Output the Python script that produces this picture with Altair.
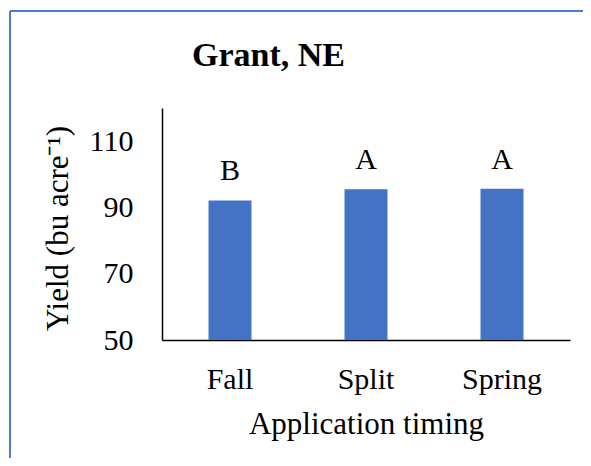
import altair as alt
import pandas as pd

timing = ["Fall", "Split", "Spring"]
yield_vals = [92.1, 95.5, 95.6]
letters = ["B", "A", "A"]
y_ticks = [50, 70, 90, 110]
title_text = "Grant, NE"

df = pd.DataFrame({"timing": timing, "yield": yield_vals, "letter": letters})
frame_df = pd.DataFrame({"k": [0]})
title_df = pd.DataFrame({"t": [title_text]})

FONT = "Liberation Serif"

x_enc = alt.X(
    "timing:N",
    sort=timing,
    scale=alt.Scale(paddingInner=0.684, paddingOuter=0.342),
    axis=alt.Axis(
        title="Application timing",
        labelAngle=0,
        ticks=False,
        tickSize=0,
        labelPadding=48,
        labelBaseline="alphabetic",
        titleY=93,
        titleBaseline="alphabetic",
    ),
)
y_enc = alt.Y(
    "yield:Q",
    scale=alt.Scale(domain=[50, 120], nice=False, zero=False),
    axis=alt.Axis(
        title="Yield (bu acre\u207b\u00b9)",
        values=y_ticks,
        grid=False,
        ticks=False,
        tickSize=0,
        labelPadding=29,
        labelBaseline="middle",
        titleX=-95,
        titleY=120,
        titleAngle=270,
        titleAlign="center",
        titleBaseline="alphabetic",
    ),
)

bars = alt.Chart(df).mark_bar(color="#4472C4", clip=True).encode(x=x_enc, y=y_enc)

texts = alt.Chart(df).mark_text(
    font=FONT, fontSize=30, baseline="alphabetic", dy=-20, color="black"
).encode(x=alt.X("timing:N", sort=timing), y=alt.Y("yield:Q"), text="letter:N")

title_mark = alt.Chart(title_df).mark_text(
    font=FONT, fontSize=34, fontWeight="bold", baseline="alphabetic",
    align="center", color="black"
).encode(x=alt.value(106.5), y=alt.value(-42), text="t:N")

top_line = alt.Chart(frame_df).mark_rule(color="#4A7BD0", strokeWidth=2).encode(
    x=alt.value(-152), x2=alt.value(700), y=alt.value(-97)
)
left_line = alt.Chart(frame_df).mark_rule(color="#4A7BD0", strokeWidth=2).encode(
    x=alt.value(-152), y=alt.value(-97), y2=alt.value(600)
)

chart = (
    alt.layer(bars, texts, title_mark, top_line, left_line)
    .properties(
        width=408,
        height=232,
        background="white",
        autosize=alt.AutoSizeParams(type="none"),
        padding={"left": 154, "top": 100, "right": 13, "bottom": 118},
    )
    .configure_view(stroke=None)
    .configure_axis(
        labelFont=FONT,
        titleFont=FONT,
        labelFontSize=30,
        titleFontSize=31,
        labelColor="black",
        titleColor="black",
        titleFontWeight="normal",
        domainColor="black",
        domainWidth=1.5,
    )
)

chart.save("out.html", embed_options={"renderer": "svg", "actions": False})
